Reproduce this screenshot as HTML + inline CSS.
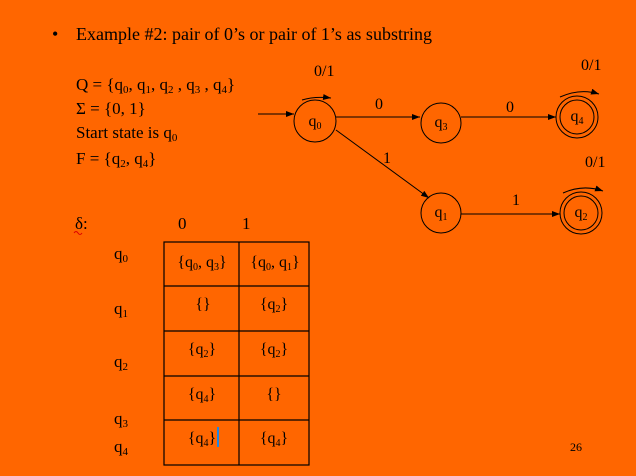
<!DOCTYPE html>
<html><head><meta charset="utf-8"><style>
html,body{margin:0;padding:0;background:#FF6600;}
svg{display:block;font-family:"Liberation Serif",serif;}
</style></head><body>
<svg width="636" height="476" viewBox="0 0 636 476">
<defs><marker id="ar" markerWidth="8" markerHeight="6" refX="8" refY="3" orient="auto"><path d="M0,0 L8,3 L0,6z" fill="#000"/></marker></defs>
<rect width="636" height="476" fill="#FF6600"/>
<g font-size="18" fill="#000">
<text x="52" y="40">•</text>
<text x="76" y="40">Example #2: pair of 0’s or pair of 1’s as substring</text>
</g>
<g font-size="17" fill="#000">
<text x="76" y="90">Q = {q<tspan font-size="11" dy="3">0</tspan><tspan dy="-3">, q</tspan><tspan font-size="11" dy="3">1</tspan><tspan dy="-3">, q</tspan><tspan font-size="11" dy="3">2</tspan><tspan dy="-3"> , q</tspan><tspan font-size="11" dy="3">3</tspan><tspan dy="-3"> , q</tspan><tspan font-size="11" dy="3">4</tspan><tspan dy="-3">}</tspan></text>
<text x="76" y="114">Σ = {0, 1}</text>
<text x="76" y="138">Start state is q<tspan font-size="11" dy="3">0</tspan></text>
<text x="76" y="164">F = {q<tspan font-size="11" dy="3">2</tspan><tspan dy="-3">, q</tspan><tspan font-size="11" dy="3">4</tspan><tspan dy="-3">}</tspan></text>
<text x="75" y="229">δ:</text>
<text x="178" y="229">0</text>
<text x="242" y="229">1</text>
</g>
<path d="M74,233 q2,-3 4,0 q2,3 4,0" stroke="#d00" fill="none" stroke-width="1"/>
<g font-size="17" fill="#000">
<text x="114" y="259">q<tspan font-size="11" dy="3">0</tspan></text>
<text x="114" y="314">q<tspan font-size="11" dy="3">1</tspan></text>
<text x="114" y="367">q<tspan font-size="11" dy="3">2</tspan></text>
<text x="114" y="424">q<tspan font-size="11" dy="3">3</tspan></text>
<text x="114" y="452">q<tspan font-size="11" dy="3">4</tspan></text>
</g>
<g stroke="#000" stroke-width="1.2" fill="none">
<rect x="164" y="242" width="145" height="223"/>
<line x1="239" y1="242" x2="239" y2="465"/>
<line x1="164" y1="286" x2="309" y2="286"/>
<line x1="164" y1="331" x2="309" y2="331"/>
<line x1="164" y1="376" x2="309" y2="376"/>
<line x1="164" y1="420" x2="309" y2="420"/>
</g>
<g font-size="16" fill="#000" text-anchor="middle">
<text x="202" y="267">{q<tspan font-size="10" dy="3">0</tspan><tspan dy="-3">, q</tspan><tspan font-size="10" dy="3">3</tspan><tspan dy="-3">}</tspan></text>
<text x="275" y="267">{q<tspan font-size="10" dy="3">0</tspan><tspan dy="-3">, q</tspan><tspan font-size="10" dy="3">1</tspan><tspan dy="-3">}</tspan></text>
<text x="203" y="309">{}</text>
<text x="274" y="309">{q<tspan font-size="10" dy="3">2</tspan><tspan dy="-3">}</tspan></text>
<text x="202" y="354">{q<tspan font-size="10" dy="3">2</tspan><tspan dy="-3">}</tspan></text>
<text x="274" y="354">{q<tspan font-size="10" dy="3">2</tspan><tspan dy="-3">}</tspan></text>
<text x="202" y="399">{q<tspan font-size="10" dy="3">4</tspan><tspan dy="-3">}</tspan></text>
<text x="274" y="399">{}</text>
<text x="202" y="443">{q<tspan font-size="10" dy="3">4</tspan><tspan dy="-3">}</tspan></text>
<text x="274" y="443">{q<tspan font-size="10" dy="3">4</tspan><tspan dy="-3">}</tspan></text>
</g>
<rect x="217" y="427" width="2" height="20" fill="#1e88e5"/>
<g stroke="#000" stroke-width="1" fill="none">
<line x1="258" y1="114" x2="294" y2="114" marker-end="url(#ar)"/>
<circle cx="315" cy="121" r="21"/>
<circle cx="441" cy="123" r="20"/>
<circle cx="577" cy="117" r="21"/><circle cx="577" cy="117" r="17"/>
<circle cx="441" cy="213" r="20"/>
<circle cx="581" cy="213" r="21"/><circle cx="581" cy="213" r="17"/>
<line x1="336" y1="117" x2="420" y2="117" marker-end="url(#ar)"/>
<line x1="461" y1="117" x2="556" y2="117" marker-end="url(#ar)"/>
<line x1="336" y1="130" x2="429" y2="198" marker-end="url(#ar)"/>
<line x1="461" y1="214" x2="560" y2="214" marker-end="url(#ar)"/>
<path d="M302,100 Q315,96 331,98" marker-end="url(#ar)"/>
<path d="M560,97 Q580,88 599,94" marker-end="url(#ar)"/>
<path d="M563,193 Q583,184 603,191" marker-end="url(#ar)"/>
</g>
<g font-size="16" fill="#000">
<text x="314" y="76">0/1</text>
<text x="581" y="70">0/1</text>
<text x="585" y="167">0/1</text>
<text x="375" y="109">0</text>
<text x="506" y="112">0</text>
<text x="383" y="163">1</text>
<text x="512" y="205">1</text>
</g>
<g font-size="16" fill="#000" text-anchor="middle">
<text x="315" y="126">q<tspan font-size="10" dy="3">0</tspan></text>
<text x="441" y="127">q<tspan font-size="10" dy="3">3</tspan></text>
<text x="577" y="121">q<tspan font-size="10" dy="3">4</tspan></text>
<text x="441" y="217">q<tspan font-size="10" dy="3">1</tspan></text>
<text x="581" y="217">q<tspan font-size="10" dy="3">2</tspan></text>
</g>
<text x="570" y="451" font-size="12" fill="#000">26</text>
</svg>
</body></html>
